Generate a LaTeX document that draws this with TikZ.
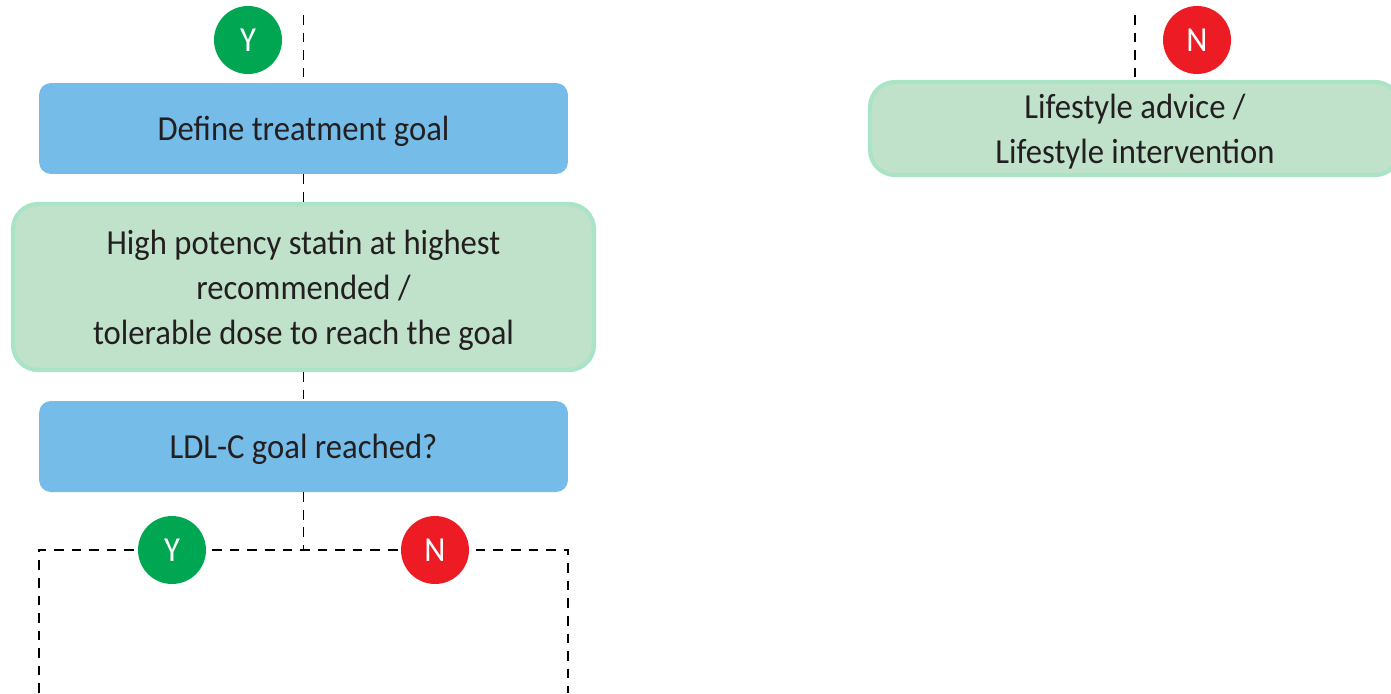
\documentclass[tikz,border=0pt]{standalone}
\usepackage{fontspec}
\setmainfont{Carlito}[FakeStretch=0.93]
\usepackage{tikz}
\definecolor{stepblue}{HTML}{75BDE8}
\definecolor{stepgreen}{HTML}{C0E2CB}
\definecolor{stepedge}{HTML}{AAE3C5}
\definecolor{yesgreen}{HTML}{00A651}
\definecolor{nored}{HTML}{ED1C24}
\definecolor{inkgray}{HTML}{231F20}
\tikzset{bluebox/.style={fill=stepblue,rounded corners=0.24cm,minimum width=10.58cm,minimum height=1.82cm,align=center,text=inkgray,text depth=0pt},
 greenbox/.style={fill=stepgreen,draw=stepedge,line width=2.4pt,rounded corners=0.5cm,align=center,text=inkgray,text depth=0pt},
 link/.style={dashed,dash pattern=on 5.5pt off 4.5pt,line width=1.1pt},
 answer/.style={circle,minimum size=1.36cm,inner sep=0pt,text=white},
 every node/.style={font=\fontsize{20}{25.5}\selectfont}}

\begin{document}
\begin{tikzpicture}[x=0.02cm,y=-0.02cm]
\useasboundingbox (0,0) rectangle (1391,693);
\node[bluebox] (goal) at (303.5,128.5) {Define treatment goal};
\node[greenbox,minimum width=11.62cm,minimum height=3.32cm] (statin) at (303.5,287) {High potency statin at highest\\recommended /\\tolerable dose to reach the goal};
\node[bluebox] (reached) at (303.5,446.5) {LDL-C goal reached?};
\node[greenbox,minimum width=10.6cm,minimum height=1.86cm] (life) at (1135,128.5) {Lifestyle advice /\\Lifestyle intervention};
\coordinate (intop) at (303.5,15);
\coordinate (split) at (303.5,550);
\coordinate (yesend) at (39,693);
\coordinate (noend) at (568,693);
\coordinate (lifetop) at (1135,15);
\draw[link] (intop)--(goal);
\draw[link] (goal)--(statin);
\draw[link] (statin)--(reached);
\draw[link] (reached)--(split);
\draw[link] (yesend) |- (split) -| (noend);
\draw[link] (lifetop)--(life);
\foreach \x/\y/\name/\c/\t in {248/40/ytop/yesgreen/Y,172/550/yleft/yesgreen/Y,435/550/nright/nored/N,1197/40/ntop/nored/N} {
 \node[answer,fill=\c] (\name) at (\x,\y) {\t};
}
\end{tikzpicture}
\end{document}
